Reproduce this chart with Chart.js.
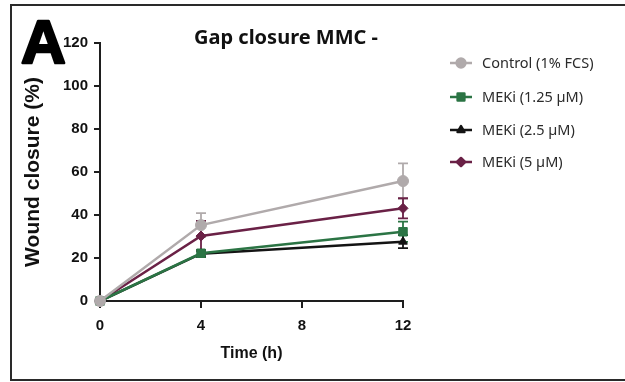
<!DOCTYPE html>
<html>
<head>
<meta charset="utf-8">
<script src="https://cdn.jsdelivr.net/npm/chart.js@4.4.1/dist/chart.umd.min.js"></script>
<style>
  html, body { margin: 0; padding: 0; background: #fff; overflow: hidden; }
  #wrap { position: relative; width: 625px; height: 382px; }
  canvas { display: block; }
</style>
</head>
<body>
<div id="wrap"><canvas id="c" width="625" height="382"></canvas></div>
<script>
// Time points (h) and wound closure (%) per treatment, mean and SD
const hours = [0, 4, 12];
const seriesNames = ['Control (1% FCS)', 'MEKi (1.25 µM)', 'MEKi (2.5 µM)', 'MEKi (5 µM)'];
const controlMean = [0, 35.3, 55.8];
const controlSd = [0, 5.6, 8.2];
const meki125Mean = [0, 22.2, 32.2];
const meki125Sd = [0, 1.5, 4.7];
const meki25Mean = [0, 22.0, 27.6];
const meki25Sd = [0, 1.5, 3.0];
const meki5Mean = [0, 30.2, 43.1];
const meki5Sd = [0, 7.0, 4.7];
const xTicks = [0, 4, 8, 12];
const yTicks = [0, 20, 40, 60, 80, 100, 120];

const tickFont = "'Liberation Sans', Arial, sans-serif";
const axisColor = '#1e1e1e';

const styles = [
  { color: '#b0aaab', pointStyle: 'circle', radius: 5.5 },
  { color: '#2b7444', pointStyle: 'rect', radius: 6 },
  { color: '#141414', pointStyle: 'triangle', radius: 5 },
  { color: '#6a2146', pointStyle: 'rectRot', radius: 5 }
];
const means = [controlMean, meki125Mean, meki25Mean, meki5Mean];
const sds = [controlSd, meki125Sd, meki25Sd, meki5Sd];

const datasets = seriesNames.map((name, i) => ({
  label: name,
  data: hours.map((h, j) => ({ x: h, y: means[i][j] })),
  sd: sds[i],
  borderColor: styles[i].color,
  backgroundColor: styles[i].color,
  borderWidth: 2.5,
  pointStyle: styles[i].pointStyle,
  pointRadius: styles[i].radius,
  pointBorderWidth: 1,
  pointBackgroundColor: styles[i].color,
  pointBorderColor: styles[i].color,
  tension: 0,
  clip: false
}));

// Error bars (mean ± SD) drawn behind the series
const errorBars = {
  id: 'errorBars',
  beforeDatasetsDraw(chart) {
    const { ctx } = chart;
    const yScale = chart.scales.y;
    ctx.save();
    chart.data.datasets.forEach((ds, i) => {
      const meta = chart.getDatasetMeta(i);
      ctx.strokeStyle = ds.borderColor;
      ctx.lineWidth = 1.8;
      meta.data.forEach((pt, j) => {
        const sd = ds.sd[j];
        if (!sd) return;
        const m = ds.data[j].y;
        const yTop = yScale.getPixelForValue(m + sd);
        const yBot = yScale.getPixelForValue(m - sd);
        const x = pt.x;
        ctx.beginPath();
        ctx.moveTo(x, yTop); ctx.lineTo(x, yBot);
        ctx.moveTo(x - 5, yTop); ctx.lineTo(x + 5, yTop);
        ctx.moveTo(x - 5, yBot); ctx.lineTo(x + 5, yBot);
        ctx.stroke();
      });
    });
    ctx.restore();
  }
};

// Frame, panel letter, title and legend
const decorations = {
  id: 'decorations',
  beforeDraw(chart) {
    const { ctx } = chart;
    ctx.save();
    ctx.fillStyle = '#fff';
    ctx.fillRect(0, 0, chart.width, chart.height);
    ctx.fillStyle = '#2a2a2a';
    ctx.fillRect(10, 4, 615, 2);
    ctx.fillRect(10, 4, 2, 377);
    ctx.fillRect(10, 379, 615, 2);
    ctx.restore();
  },
  afterDraw(chart) {
    const { ctx } = chart;
    ctx.save();
    // panel letter
    ctx.fillStyle = '#000';
    ctx.strokeStyle = '#000';
    ctx.lineWidth = 2.5;
    ctx.lineJoin = 'round';
    ctx.font = "bold 62px 'Liberation Sans', Arial, sans-serif";
    ctx.textAlign = 'left';
    ctx.textBaseline = 'alphabetic';
    ctx.fillText('A', 21, 63);
    ctx.strokeText('A', 21, 63);
    // title
    ctx.font = "bold 20px 'Noto Sans', 'Open Sans', sans-serif";
    ctx.textAlign = 'center';
    ctx.fillStyle = '#111';
    ctx.fillText('Gap closure MMC -', 286, 44);
    // legend
    const rows = [63, 97, 130, 162];
    ctx.font = "14.5px 'Noto Sans', 'Open Sans', sans-serif";
    chart.data.datasets.forEach((ds, i) => {
      const y = rows[i];
      ctx.strokeStyle = ds.borderColor;
      ctx.lineWidth = 2.5;
      ctx.beginPath();
      ctx.moveTo(450, y); ctx.lineTo(472, y);
      ctx.stroke();
      Chart.helpers.drawPoint(ctx, {
        pointStyle: ds.pointStyle,
        radius: ds.pointRadius * 0.8,
        rotation: 0,
        borderWidth: 1
      }, 461, y);
      ctx.fillStyle = ds.borderColor;
      ctx.fill();
      ctx.fillStyle = '#2b2b2b';
      ctx.textAlign = 'left';
      ctx.textBaseline = 'middle';
      ctx.fillText(ds.label, 482, y + 1);
    });
    ctx.restore();
  }
};

new Chart(document.getElementById('c'), {
  type: 'line',
  data: { datasets },
  plugins: [decorations, errorBars],
  options: {
    responsive: false,
    animation: false,
    layout: { padding: { left: 0, top: 43, right: 222, bottom: 0 } },
    plugins: { legend: { display: false }, title: { display: false }, tooltip: { enabled: false } },
    scales: {
      x: {
        type: 'linear',
        min: 0, max: 12,
        afterFit(scale) { scale.height = 81; },
        afterBuildTicks(scale) { scale.ticks = xTicks.map(v => ({ value: v })); },
        ticks: {
          color: '#111',
          padding: 9,
          font: { family: tickFont, size: 15, weight: 'bold' }
        },
        grid: { drawOnChartArea: false, drawTicks: true, tickLength: 7, color: axisColor, lineWidth: 2 },
        border: { color: axisColor, width: 2 },
        title: {
          display: true,
          text: 'Time (h)',
          color: '#111',
          font: { family: tickFont, size: 16, weight: 'bold' },
          padding: { top: 0, bottom: 19 }
        }
      },
      y: {
        min: 0, max: 120,
        afterFit(scale) { scale.width = 100; },
        afterBuildTicks(scale) { scale.ticks = yTicks.map(v => ({ value: v })); },
        ticks: {
          color: '#111',
          padding: 6,
          font: { family: tickFont, size: 15, weight: 'bold' }
        },
        grid: { drawOnChartArea: false, drawTicks: true, tickLength: 6, color: axisColor, lineWidth: 2 },
        border: { color: axisColor, width: 2 },
        title: {
          display: true,
          text: 'Wound closure (%)',
          color: '#111',
          font: { family: "'Liberation Sans', Arial, sans-serif", size: 21, weight: 'bold' },
          padding: { top: 21, bottom: 0 }
        }
      }
    }
  }
});
</script>
</body>
</html>
